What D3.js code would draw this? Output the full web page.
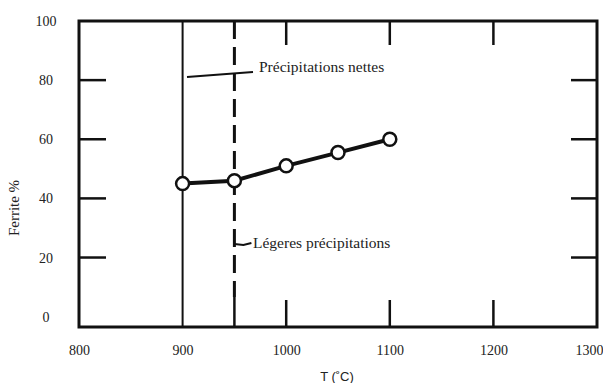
<!DOCTYPE html>
<html>
<head>
<meta charset="utf-8">
<script src="https://cdn.jsdelivr.net/npm/d3@7"></script>
<style>
  body { margin: 0; background: #fff; }
  svg { display: block; }
  text { font-family: "Liberation Serif", "Times New Roman", serif; fill: #222; }
</style>
</head>
<body>
<div id="chart"></div>
<script>
// values
var temps = [900, 950, 1000, 1050, 1100];
var ferrite = [45, 46, 51, 55.5, 60];
var xTicks = [800, 900, 1000, 1100, 1200, 1300];
var yTicks = [0, 20, 40, 60, 80, 100];
var xInnerTicks = [1000, 1100, 1200];
var yInnerTicks = [20, 40, 60, 80];
var solidLineT = 900;   // précipitations nettes
var dashedLineT = 950;  // légeres précipitations

var width = 603, height = 383;

var svg = d3.select("#chart").append("svg")
    .attr("width", width)
    .attr("height", height);

var x = d3.scaleLinear().domain([800, 1300]).range([79, 597]);
var y = d3.scaleLinear().domain([-3.5, 100]).range([327, 21]);

var yTop = y(100), yBot = y(-3.5), xLeft = x(800), xRight = x(1300);

// inner ticks on all four sides
svg.selectAll(".tl").data(yInnerTicks).enter().append("line")
    .attr("x1", xLeft).attr("x2", xLeft + 27)
    .attr("y1", d => y(d)).attr("y2", d => y(d))
    .attr("stroke", "#111").attr("stroke-width", 2.5);
svg.selectAll(".tr").data(yInnerTicks).enter().append("line")
    .attr("x1", xRight).attr("x2", xRight - 26)
    .attr("y1", d => y(d)).attr("y2", d => y(d))
    .attr("stroke", "#111").attr("stroke-width", 2.5);
svg.selectAll(".tt").data(xInnerTicks).enter().append("line")
    .attr("x1", d => x(d)).attr("x2", d => x(d))
    .attr("y1", yTop).attr("y2", yTop + 24)
    .attr("stroke", "#111").attr("stroke-width", 2.5);
svg.selectAll(".tb").data(xInnerTicks).enter().append("line")
    .attr("x1", d => x(d)).attr("x2", d => x(d))
    .attr("y1", yBot).attr("y2", yBot - 27)
    .attr("stroke", "#111").attr("stroke-width", 2.5);

// solid vertical line at 900
svg.append("line")
    .attr("x1", x(solidLineT)).attr("x2", x(solidLineT))
    .attr("y1", yTop).attr("y2", yBot)
    .attr("stroke", "#111").attr("stroke-width", 2);

// dashed vertical line at 950, solid near the bottom
svg.append("line")
    .attr("x1", x(dashedLineT)).attr("x2", x(dashedLineT))
    .attr("y1", yTop).attr("y2", yBot - 30)
    .attr("stroke", "#111").attr("stroke-width", 3)
    .attr("stroke-dasharray", "18,8");
svg.append("line")
    .attr("x1", x(dashedLineT)).attr("x2", x(dashedLineT))
    .attr("y1", yBot - 30).attr("y2", yBot)
    .attr("stroke", "#111").attr("stroke-width", 2.5);

// frame
svg.append("rect")
    .attr("x", xLeft).attr("y", yTop)
    .attr("width", xRight - xLeft).attr("height", yBot - yTop)
    .attr("fill", "none").attr("stroke", "#111").attr("stroke-width", 3);

// data line + markers
var pts = temps.map((t, i) => [t, ferrite[i]]);
svg.append("path")
    .datum(pts)
    .attr("fill", "none").attr("stroke", "#111").attr("stroke-width", 4)
    .attr("d", d3.line().x(d => x(d[0])).y(d => y(d[1])));
svg.selectAll(".pt").data(pts).enter().append("circle")
    .attr("cx", d => x(d[0])).attr("cy", d => y(d[1]))
    .attr("r", 6.5)
    .attr("fill", "#fff").attr("stroke", "#111").attr("stroke-width", 2.5);

// tick labels
var xAxis = svg.append("g")
    .attr("transform", "translate(0," + yBot + ")")
    .call(d3.axisBottom(x).tickValues(xTicks).tickSize(0).tickPadding(18).tickFormat(d3.format("d")));
xAxis.select(".domain").remove();
xAxis.selectAll("text")
    .style("font-family", "Liberation Serif").style("font-size", "14px").attr("fill", "#222");
xAxis.selectAll(".tick").filter(d => d === 1300).select("text")
    .attr("text-anchor", "end").attr("x", 6);

var yAxis = svg.append("g")
    .attr("transform", "translate(" + xLeft + ",0)")
    .call(d3.axisLeft(y).tickValues(yTicks).tickSize(0).tickPadding(0));
yAxis.select(".domain").remove();
yAxis.selectAll("text")
    .attr("text-anchor", "middle").attr("x", -33)
    .style("font-family", "Liberation Serif").style("font-size", "14px").attr("fill", "#222");

// axis titles
svg.append("text")
    .attr("transform", "translate(19,208) rotate(-90)")
    .attr("text-anchor", "middle")
    .style("font-size", "15px")
    .text("Ferrite %");
svg.append("text")
    .attr("x", 337).attr("y", 381)
    .attr("text-anchor", "middle")
    .style("font-family", "Liberation Sans, Arial, sans-serif")
    .style("font-size", "13px")
    .text("T (˚C)");

// annotations
svg.append("line")
    .attr("x1", 187).attr("y1", 77).attr("x2", 253).attr("y2", 72)
    .attr("stroke", "#111").attr("stroke-width", 2);
svg.append("text")
    .attr("x", 259).attr("y", 72)
    .style("font-size", "15.5px")
    .text("Précipitations nettes");

svg.append("path")
    .attr("d", "M" + x(dashedLineT) + ",244 L" + (x(dashedLineT) + 9) + ",245 L" + (x(dashedLineT) + 17) + ",243")
    .attr("fill", "none").attr("stroke", "#111").attr("stroke-width", 2);
svg.append("text")
    .attr("x", 253).attr("y", 248)
    .style("font-size", "15.5px")
    .text("Légeres précipitations");
</script>
</body>
</html>
